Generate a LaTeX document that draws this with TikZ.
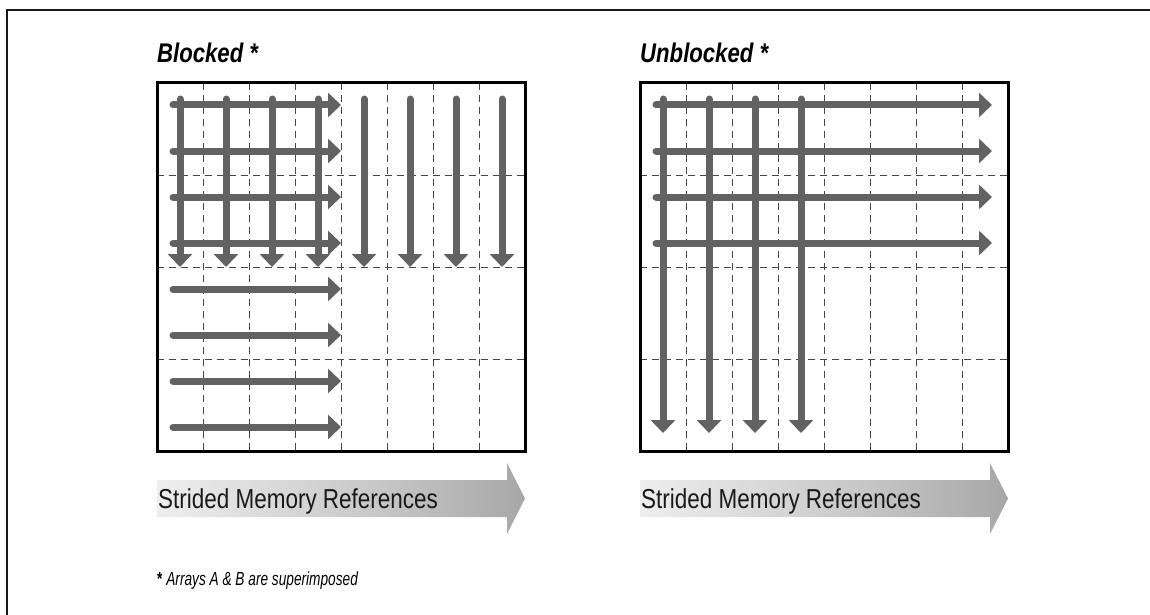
\documentclass[tikz,border=0pt]{standalone}
\usepackage{fontspec}
\usetikzlibrary{arrows.meta}
\newfontfamily\cond[FakeStretch=0.82]{Liberation Sans}
\newfontfamily\condfoot[FakeStretch=0.72]{Liberation Sans}
\definecolor{arrowgray}{RGB}{98,98,98}
\definecolor{gridgray}{RGB}{70,70,70}
\pgfdeclarehorizontalshading{memshade}{100bp}{color(0bp)=(white); color(12bp)=(white); color(55bp)=(black!22); color(100bp)=(black!50)}
\tikzset{
  flow/.style={draw=arrowgray, line width=7pt, line cap=round, -{Triangle[length=13pt,width=24pt]}},
  gridline/.style={draw=gridgray, line width=1pt, dash pattern=on 7pt off 5pt},
  boxborder/.style={draw=black, line width=3pt},
  title/.style={anchor=base west, inner sep=0pt, font=\cond\bfseries\itshape\fontsize{27}{30}\selectfont},
  memtext/.style={anchor=base west, inner sep=0pt, font=\cond\fontsize{27.4}{30}\selectfont, text=black!90},
  foot/.style={anchor=base west, inner sep=0pt, font=\condfoot\itshape\fontsize{19}{22}\selectfont},
  memarrow/.style={shading=memshade, draw=none}
}
\begin{document}
\begin{tikzpicture}[x=1pt,y=-1pt]
\useasboundingbox (0,0) rectangle (1150,615);
\clip (0,0) rectangle (1150,615);
% outer frame
\draw[line width=2pt, draw=black!90] (7,640) -- (7,10) -- (1170,10);

% ---------- Blocked ----------
\node[title] (tb) at (157,63) {Blocked *};
\begin{scope}[shift={(157,83)}]
  \foreach \i in {1,...,7} \draw[gridline] (\i*46,0) -- (\i*46,368);
  \foreach \j in {2,4,6} \draw[gridline] (0,\j*46) -- (368,\j*46);
  \foreach \j in {0,...,7} \draw[flow] (16,22+\j*46) -- (184,22+\j*46);
  \foreach \i in {0,...,7} \draw[flow] (23+\i*46,16) -- (23+\i*46,184);
  \draw[boxborder] (0,0) rectangle (368,368);
\end{scope}
\path[memarrow] (157,480) -- (507,480) -- (507,463) -- (525,498.5) -- (507,534) -- (507,517) -- (157,517) -- cycle;
\node[memtext] (sb) at (158,508) {Strided Memory References};

% ---------- Unblocked ----------
\node[title] (tu) at (640,63) {Unblocked *};
\begin{scope}[shift={(640,83)}]
  \foreach \i in {1,...,7} \draw[gridline] (\i*46,0) -- (\i*46,368);
  \foreach \j in {2,4,6} \draw[gridline] (0,\j*46) -- (368,\j*46);
  \foreach \j in {0,...,3} \draw[flow] (16,22+\j*46) -- (352,22+\j*46);
  \foreach \i in {0,...,3} \draw[flow] (23+\i*46,16) -- (23+\i*46,350);
  \draw[boxborder] (0,0) rectangle (368,368);
\end{scope}
\path[memarrow] (640,480) -- (990,480) -- (990,463) -- (1008,498.5) -- (990,534) -- (990,517) -- (640,517) -- cycle;
\node[memtext] (su) at (641,508) {Strided Memory References};

% footnote
\node[foot] (fn) at (157,585) {{\upshape\bfseries *} Arrays A \& B are superimposed};
\end{tikzpicture}
\end{document}
